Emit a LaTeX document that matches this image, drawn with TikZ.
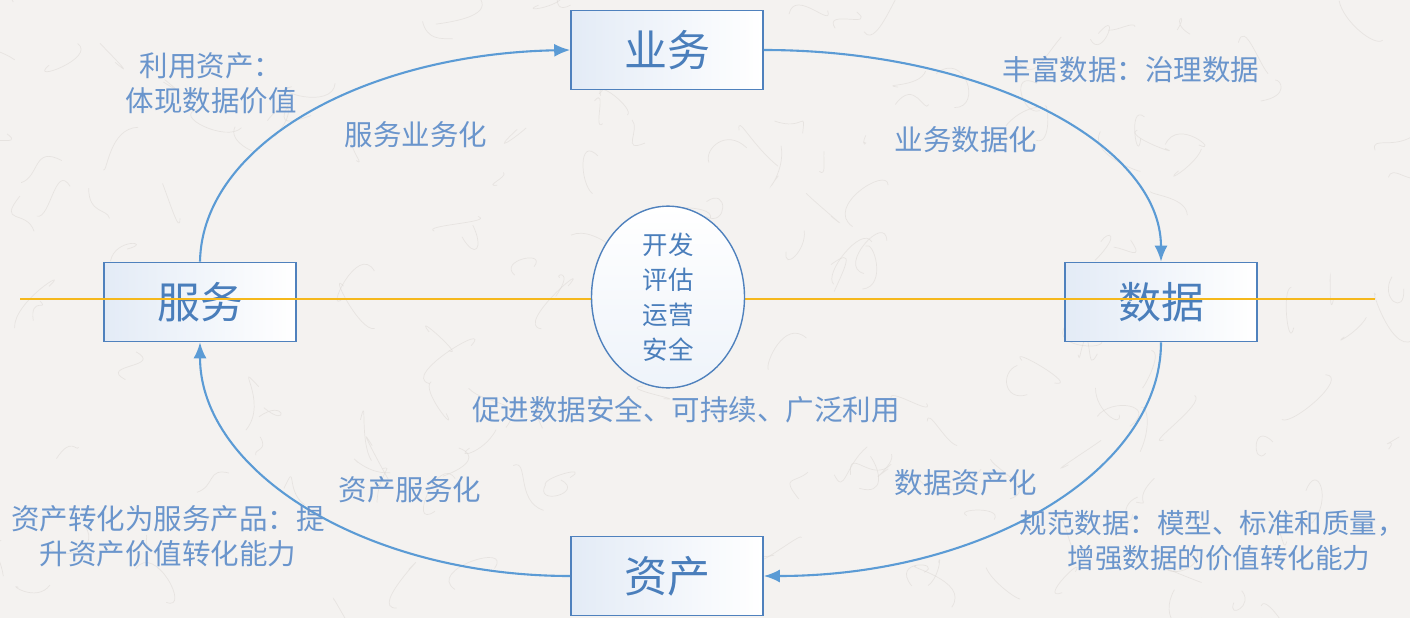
\documentclass[tikz,border=0pt]{standalone}
\usepackage{fontspec}
\setmainfont{Noto Sans CJK SC}
\usetikzlibrary{arrows.meta,shapes.geometric}
\definecolor{bg}{HTML}{F4F2F0}
\definecolor{fiber}{HTML}{DCD8D4}
\definecolor{boxline}{HTML}{4F81BD}
\definecolor{boxtext}{HTML}{4A7EBB}
\definecolor{arrowc}{HTML}{5B9BD5}
\definecolor{labelc}{HTML}{6A95CC}
\definecolor{gold}{HTML}{F5B81C}
\definecolor{boxfill}{HTML}{E3EBF6}
\tikzset{
  mainbox/.style={draw=boxline, line width=1.6pt, left color=boxfill, right color=white,
    minimum width=192pt, minimum height=79pt, inner sep=0pt,
    text=boxtext, font=\fontsize{43}{48}\selectfont},
  lbl/.style={text=labelc, font=\fontsize{28.5}{35}\selectfont, align=center, inner sep=0pt},
  flow/.style={draw=arrowc, line width=2.1pt, -{Latex[length=16pt,width=13pt]}},
}
\begin{document}
\begin{tikzpicture}[x=1pt,y=-1pt]
\fill[bg] (0,0) rectangle (1410,618);
\useasboundingbox (0,0) rectangle (1410,618);
\pgfmathsetseed{11}
\begin{scope}[draw=fiber, line width=0.7pt, opacity=0.55]
\foreach \i in {1,...,170}{
  \pgfmathsetmacro\px{rnd*1410}
  \pgfmathsetmacro\py{rnd*618}
  \pgfmathsetmacro\ax{rand*30}
  \pgfmathsetmacro\ay{rand*30}
  \pgfmathsetmacro\bx{rand*30}
  \pgfmathsetmacro\by{rand*30}
  \pgfmathsetmacro\ex{rand*45}
  \pgfmathsetmacro\ey{rand*45}
  \draw (\px,\py) .. controls +(\ax,\ay) and +(\bx,\by) .. +(\ex,\ey);
}
\end{scope}

\node[mainbox] (yw) at (667,50) {业务};
\node[mainbox] (sj) at (1161,302) {数据};
\node[mainbox] (fw) at (200,302) {服务};
\node[mainbox] (zc) at (667,576) {资产};

\coordinate (L) at (20,299);
\coordinate (R) at (1375,299);
\draw[gold, line width=1.6pt] (L) -- (R);

\node[draw=boxline, line width=1.4pt, ellipse, minimum width=153pt, minimum height=155pt,
  inner sep=0pt, top color=white, bottom color=boxfill!60,
  text=boxtext, font=\fontsize{25.5}{35}\selectfont, align=center] (c) at (668,297)
  {开发\\评估\\运营\\安全};

\draw[flow] (fw.north) .. controls +(2,-118) and +(-205,4) .. (yw.west);
\draw[flow] (yw.east) .. controls +(220,0) and +(0,-118) .. (sj.north);
\draw[flow] (sj.south) .. controls +(0,129) and +(219,0) .. (zc.east);
\draw[flow] (zc.west) .. controls +(-205,0) and +(0,129) .. (fw.south);

\node[lbl] (l1) at (211,83) {利用资产：\\体现数据价值};
\node[lbl] (l2) at (416,135) {服务业务化};
\node[lbl] (l3) at (1131,70) {丰富数据：治理数据};
\node[lbl] (l4) at (966,140) {业务数据化};
\node[lbl] (l5) at (686,410) {促进数据安全、可持续、广泛利用};
\node[lbl] (l6) at (966,483) {数据资产化};
\node[lbl] (l7) at (410,490) {资产服务化};
\node[lbl] (l8) at (168,536) {资产转化为服务产品：提\\升资产价值转化能力};
\node[lbl, font=\fontsize{27.5}{35}\selectfont] (l9) at (1212,541) {规范数据：模型、标准和质量，\\\hspace*{14pt}增强数据的价值转化能力};
\end{tikzpicture}
\end{document}
